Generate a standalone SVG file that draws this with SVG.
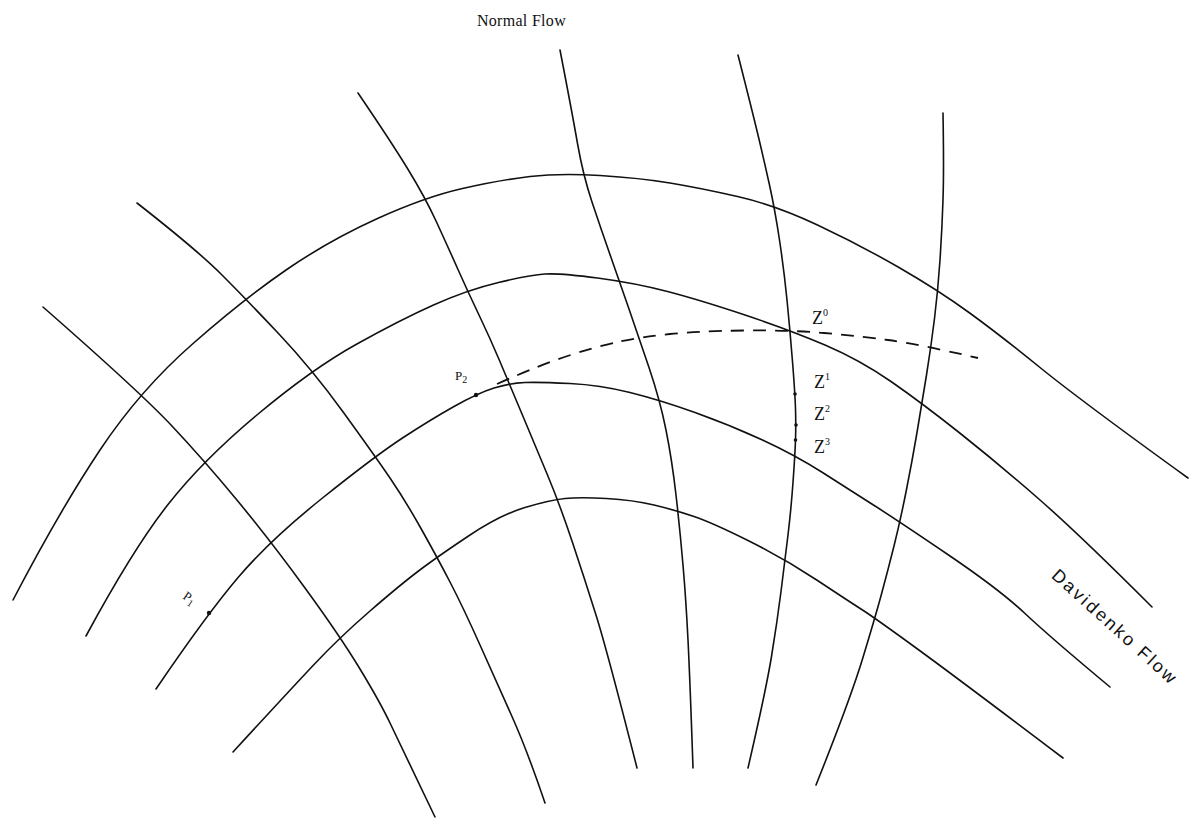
<svg xmlns="http://www.w3.org/2000/svg" width="1191" height="818" viewBox="0 0 1191 818">
<style>
.c{fill:none;stroke:#111;stroke-width:1.6;stroke-linejoin:round;stroke-linecap:round}
.d{fill:none;stroke:#111;stroke-width:1.8;stroke-dasharray:13 9}
.t{font-family:"Liberation Serif",serif;fill:#111}
.s{font-family:"Liberation Sans",sans-serif;fill:#111}
.dot{fill:#111}
</style>
<rect width="1191" height="818" fill="#fff"/>
<g id="connectors">
<g id="davidenko-flow">
<path class="c" d="M13,600 Q60,510 100,450 Q140,390 192.5,344 Q245,298 287.5,269 Q330,240 377.5,218.5 Q425,197 462.5,188.5 Q500,180 530,176.5 Q560,173 600,175.5 Q640,178 670,183 Q700,188 737.5,196.5 Q775,205 817.5,225 Q860,245 899,267.5 Q938,290 969,312.5 Q1000,335 1040,367.5 Q1080,400 1188,478"/>
<path class="c" d="M86,636 Q133,549 168,504.5 Q203,460 257.5,414.5 Q312,369 356,344.5 Q400,320 433.5,305 Q467,290 498.5,282.5 Q530,275 545,274 Q560,273 597.5,278 Q635,283 667.5,291.5 Q700,300 745,315 Q790,330 825,345 Q860,360 891,381.5 Q922,403 961,434 Q1000,465 1040,500 Q1080,535 1152,607"/>
<path class="c" d="M156,689 Q207,614 238.5,577 Q270,540 322.5,498 Q375,456 402.5,438 Q430,420 454,406.5 Q478,393 494,388 Q510,383 525,382.5 Q540,382 570,383.5 Q600,385 630,392.5 Q660,400 695,412.5 Q730,425 762.5,440 Q795,455 822.5,472.5 Q850,490 875,506 Q900,522 950,556 Q1000,590 1025,613.5 Q1050,637 1110,687"/>
<path class="c" d="M233,752 Q290,690 315,663.5 Q340,637 370,611 Q400,585 418.5,571 Q437,557 468.5,536 Q500,515 525,507.5 Q550,500 565,498.5 Q580,497 606.5,498.5 Q633,500 654,505 Q675,510 694,516.5 Q713,523 749,541 Q785,559 817.5,580.5 Q850,602 862.5,610 Q875,618 917.5,649 Q960,680 1063,758"/>
</g>
<g id="normal-flow">
<path class="c" d="M43,307 Q140,392 171.5,425.5 Q203,459 236.5,499.5 Q270,540 305,588 Q340,636 360,669 Q380,702 390,723 Q400,744 435,817"/>
<path class="c" d="M137,203 Q197,250 221,274 Q245,298 278.5,333.5 Q312,369 343.5,412.5 Q375,456 390,478 Q405,500 421,528.5 Q437,557 450,582 Q463,607 480,645 Q497,683 512,716.5 Q527,750 545,803"/>
<path class="c" d="M358,93 Q390,140 407.5,168.5 Q425,197 436.5,222 Q448,247 458,269.5 Q468,292 479,315 Q490,338 499.5,360.5 Q509,383 522,414 Q535,445 547.5,475 Q560,505 572.5,542.5 Q585,580 596,615 Q607,650 637,768"/>
<path class="c" d="M560,50 Q572,112 577.5,143.5 Q583,175 592,202 Q601,229 610.5,256 Q620,283 629,309 Q638,335 649,367.5 Q660,400 666,430 Q672,460 676,495 Q680,530 683,565 Q686,600 688,640 Q690,680 693,768"/>
<path class="c" d="M738,55 Q752,110 758,135 Q764,160 769.5,185 Q775,210 779.5,240 Q784,270 787,300 Q790,330 792.5,361.5 Q795,393 795.5,409 Q796,425 795.5,440 Q795,455 793,482.5 Q791,510 788,535 Q785,560 781,591.5 Q777,623 771.5,656.5 Q766,690 748,768"/>
<path class="c" d="M943,113 Q944,170 943,200 Q942,230 940,260 Q938,290 934.5,318.5 Q931,347 926.5,375 Q922,403 917,432.5 Q912,462 906,492 Q900,522 894,546 Q888,570 881.5,594 Q875,618 862.5,659 Q850,700 816,785"/>
</g>
<path id="dashed-path" class="d" d="M497,384 Q540,365 567.5,356 Q595,347 617.5,342 Q640,337 670,334 Q700,331 745,330.5 Q790,330 824,333 Q858,336 888,340 Q918,344 978,358"/>
</g>
<g id="point-p1"><circle class="dot" cx="209" cy="613" r="2.2"/><text class="t" font-size="13" transform="translate(182,598) rotate(35)">P<tspan font-size="10" dy="3">1</tspan></text></g>
<g id="point-p2"><circle class="dot" cx="476" cy="395" r="2.2"/><text class="t" font-size="13" x="455" y="380">P<tspan font-size="10" dy="3">2</tspan></text></g>
<g id="point-z0"><text class="t" font-size="18" x="812" y="324">Z<tspan font-size="10" dy="-8">0</tspan></text></g>
<g id="point-z1"><circle class="dot" cx="795" cy="394" r="1.8"/><text class="t" font-size="18" x="814" y="388">Z<tspan font-size="10" dy="-8">1</tspan></text></g>
<g id="point-z2"><circle class="dot" cx="796" cy="425" r="1.8"/><text class="t" font-size="18" x="814" y="420">Z<tspan font-size="10" dy="-8">2</tspan></text></g>
<g id="point-z3"><circle class="dot" cx="795.5" cy="440" r="1.8"/><text class="t" font-size="18" x="814" y="453">Z<tspan font-size="10" dy="-8">3</tspan></text></g>
<g id="label-normal-flow"><text class="t" font-size="16" x="566" y="26" text-anchor="end" letter-spacing="0.3">Normal Flow</text></g>
<g id="label-davidenko-flow"><text class="s" font-size="18" letter-spacing="2.5" text-anchor="middle" transform="translate(1115,627) rotate(42)" y="6">Davidenko Flow</text></g>
</svg>
